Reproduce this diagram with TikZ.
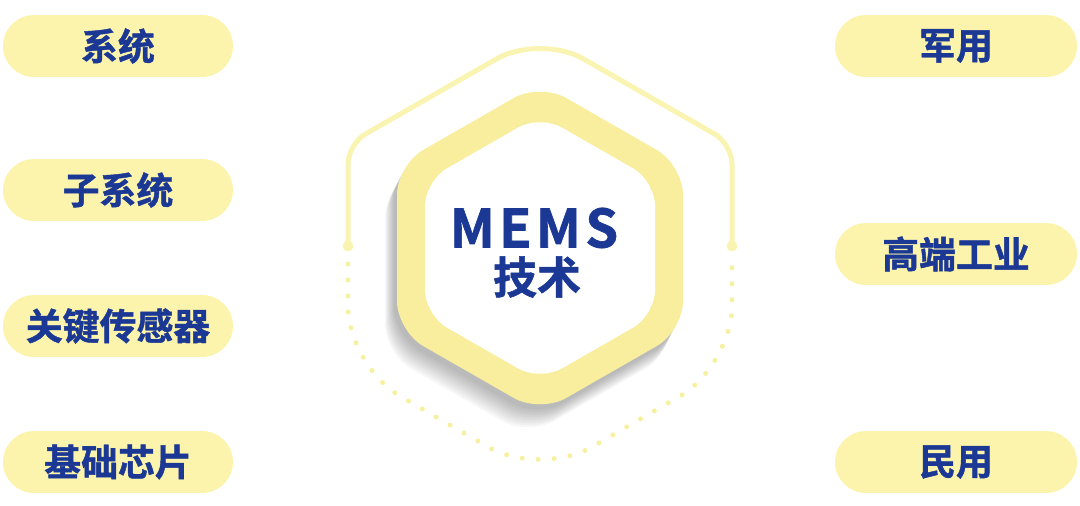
\documentclass[tikz,border=0pt]{standalone}
\usepackage{fontspec}
\usepackage{xcolor}
\newfontfamily\cjk{Noto Sans CJK SC}[BoldFont={Noto Sans CJK SC Bold}, BoldFeatures={FakeBold=1.2}]
\definecolor{pillfill}{RGB}{252,244,172}
\definecolor{ringfill}{RGB}{248,238,158}
\definecolor{linefill}{RGB}{250,244,178}
\definecolor{dotfill}{RGB}{246,240,160}
\definecolor{textblue}{RGB}{26,56,148}

\begin{document}
\begin{tikzpicture}[x=0.02cm, y=-0.02cm,
  pill/.style={rectangle, rounded corners=0.62cm, fill=pillfill, minimum height=1.24cm,
    text=textblue, font=\cjk\bfseries\fontsize{21}{24}\selectfont},
  leftpill/.style={pill, minimum width=4.6cm},
  rightpill/.style={pill, minimum width=4.84cm}]
\useasboundingbox (0,0) rectangle (1080,506);

% Frame
\draw[linefill, line width=0.1cm, line cap=round, rounded corners=0.4cm]
  (348,248) -- (348,144) [rounded corners=1cm] -- (540,34) [rounded corners=0.4cm] -- (732,144) -- (732,248);
\fill[linefill] (348,246) circle (5.5);
\fill[linefill] (732,246) circle (5.5);
\draw[dotfill, line width=0.1cm, line cap=round, dash pattern=on 0pt off 0.32cm, rounded corners=1.2cm]
  (348,264) -- (348,366) -- (540,477) -- (732,366) -- (732,264);

% Shadow
\foreach \i in {1,...,10}
  \fill[black, opacity=0.03, rounded corners=0.6cm, shift={(-2-\i,3+2*\i)}]
    (540,83) -- (683,165) -- (683,331) -- (540,413) -- (397,331) -- (397,165) -- cycle;

% Hexagon
\fill[ringfill, rounded corners=0.6cm]
  (540,83) -- (683,165) -- (683,331) -- (540,413) -- (397,331) -- (397,165) -- cycle;
\fill[white, rounded corners=0.5cm]
  (540,115) -- (655,181) -- (655,315) -- (540,381) -- (425,315) -- (425,181) -- cycle;
\node[text=textblue, font=\cjk\bfseries\fontsize{30}{34}\selectfont] (mems) at (534,228)
  {M\kern2.5pt E\kern2.5pt M\kern2.5pt S};
\node[text=textblue, font=\cjk\bfseries\fontsize{25}{30}\selectfont] (jishu) at (537,277) {技术};

% Pills
\node[leftpill] (xitong) at (118,46) {系统};
\node[leftpill] (zixitong) at (118,190) {子系统};
\node[leftpill] (chuanganqi) at (118,326) {关键传感器};
\node[leftpill] (xinpian) at (118,462) {基础芯片};
\node[rightpill] (junyong) at (956,46) {军用};
\node[rightpill] (gongye) at (956,254) {高端工业};
\node[rightpill] (minyong) at (956,462) {民用};
\end{tikzpicture}
\end{document}
